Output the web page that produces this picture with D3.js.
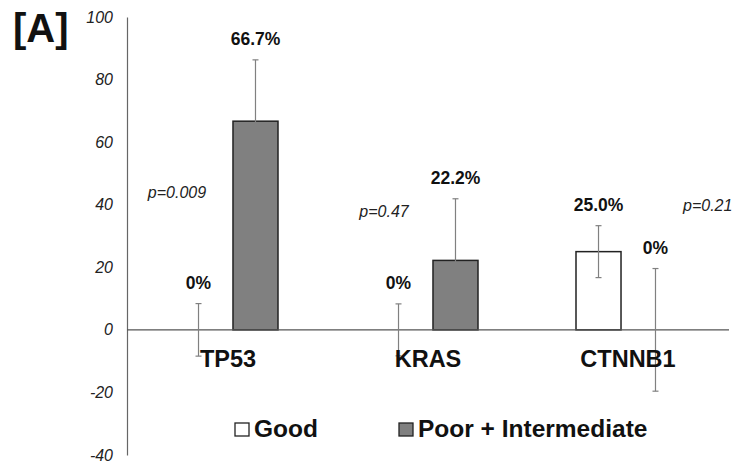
<!DOCTYPE html>
<html>
<head>
<meta charset="utf-8">
<script src="https://cdnjs.cloudflare.com/ajax/libs/d3/7.8.5/d3.min.js"></script>
<style>
  body { margin: 0; background: #fff; }
  text { font-family: "Liberation Sans", Arial, sans-serif; }
</style>
</head>
<body>
<svg id="chart" width="735" height="466"></svg>
<script>
var genes = ["TP53", "KRAS", "CTNNB1"];
var groups = ["Good", "Poor + Intermediate"];
var goodValues = [0, 0, 25.0];
var goodErrors = [8.4, 8.3, 8.3];
var poorValues = [66.7, 22.2, 0];
var poorErrors = [19.6, 19.7, 19.6];
var pValues = ["p=0.009", "p=0.47", "p=0.21"];
var yTicks = [100, 80, 60, 40, 20, 0, -20, -40];

var svg = d3.select("#chart");

var x = d3.scaleBand().domain(genes).range([127, 727]);
var xs = d3.scaleBand().domain(groups).range([0, x.bandwidth()])
  .paddingInner(0.21).paddingOuter(0.86);
var y = d3.scaleLinear().domain([-40, 100]).range([455, 17]);

// flatten for drawing
var bars = [];
genes.forEach(function (g, i) {
  bars.push({ gene: g, group: groups[0], value: goodValues[i], err: goodErrors[i] });
  bars.push({ gene: g, group: groups[1], value: poorValues[i], err: poorErrors[i] });
});
var fills = { "Good": "#ffffff", "Poor + Intermediate": "#808080" };

// y axis (labels only, plain line)
var yAxis = svg.append("g")
  .attr("transform", "translate(127,0)")
  .call(d3.axisLeft(y).tickValues(yTicks).tickSize(0).tickPadding(14)
    .tickFormat(function (d) { return String(d); }));
yAxis.select(".domain").attr("stroke", "#666").attr("stroke-width", 1.2);
yAxis.selectAll("text")
  .attr("font-size", 16)
  .attr("font-style", "italic")
  .attr("fill", "#222")
  .style("font-family", "'Liberation Sans', Arial, sans-serif");

// bars
svg.selectAll(".bar")
  .data(bars.filter(function (d) { return d.value > 0; }))
  .enter()
  .append("rect")
  .attr("class", "bar")
  .attr("x", function (d) { return x(d.gene) + xs(d.group); })
  .attr("y", function (d) { return y(d.value); })
  .attr("width", xs.bandwidth())
  .attr("height", function (d) { return y(0) - y(d.value); })
  .attr("fill", function (d) { return fills[d.group]; })
  .attr("stroke", "#222")
  .attr("stroke-width", 1.5);

// zero line
svg.append("line")
  .attr("x1", x.range()[0]).attr("x2", x.range()[1] + 2)
  .attr("y1", y(0)).attr("y2", y(0))
  .attr("stroke", "#555").attr("stroke-width", 1.2);

// error bars
var eb = svg.selectAll(".err")
  .data(bars)
  .enter()
  .append("g")
  .attr("class", "err")
  .attr("stroke", "#808080")
  .attr("stroke-width", 1.2);
function cx(d) { return x(d.gene) + xs(d.group) + xs.bandwidth() / 2; }
eb.append("line")
  .attr("x1", cx).attr("x2", cx)
  .attr("y1", function (d) { return y(d.value + d.err); })
  .attr("y2", function (d) { return y(d.value - d.err); });
eb.append("line")
  .attr("x1", function (d) { return cx(d) - 3; }).attr("x2", function (d) { return cx(d) + 3; })
  .attr("y1", function (d) { return y(d.value + d.err); })
  .attr("y2", function (d) { return y(d.value + d.err); });
eb.append("line")
  .attr("x1", function (d) { return cx(d) - 3; }).attr("x2", function (d) { return cx(d) + 3; })
  .attr("y1", function (d) { return y(d.value - d.err); })
  .attr("y2", function (d) { return y(d.value - d.err); });

// value labels
svg.selectAll(".vlabel")
  .data(bars)
  .enter()
  .append("text")
  .attr("class", "vlabel")
  .attr("x", cx)
  .attr("y", function (d) { return y(d.value + d.err) - 15; })
  .attr("text-anchor", "middle")
  .attr("font-size", 17.5)
  .attr("font-weight", "bold")
  .attr("fill", "#111")
  .text(function (d) { return d.value === 0 ? "0%" : d.value.toFixed(1) + "%"; });

// gene labels
svg.selectAll(".glabel")
  .data(genes)
  .enter()
  .append("text")
  .attr("x", function (d) { return x(d) + x.bandwidth() / 2 + 1; })
  .attr("y", 367)
  .attr("text-anchor", "middle")
  .attr("font-size", 23.5)
  .attr("font-weight", "bold")
  .attr("fill", "#111")
  .text(function (d) { return d; });

// p-values (text boxes placed by hand)
var pPos = [[177, 198], [384, 217], [683, 211]];
svg.selectAll(".plabel")
  .data(pValues)
  .enter()
  .append("text")
  .attr("x", function (d, i) { return pPos[i][0]; })
  .attr("y", function (d, i) { return pPos[i][1]; })
  .attr("text-anchor", function (d, i) { return i === 2 ? "start" : "middle"; })
  .attr("font-size", 16)
  .attr("font-style", "italic")
  .attr("fill", "#222")
  .text(function (d) { return d; });

// legend
var legX = [235, 399];
var leg = svg.selectAll(".leg")
  .data(groups)
  .enter()
  .append("g")
  .attr("transform", function (d, i) { return "translate(" + legX[i] + ",423)"; });
leg.append("rect")
  .attr("width", 14).attr("height", 13)
  .attr("fill", function (d) { return fills[d]; })
  .attr("stroke", "#222").attr("stroke-width", 1.3);
leg.append("text")
  .attr("x", 19).attr("y", 14)
  .attr("font-size", 24.5)
  .attr("font-weight", "bold")
  .attr("fill", "#111")
  .text(function (d) { return d; });

// panel tag
svg.append("text")
  .attr("x", 13).attr("y", 42)
  .attr("font-size", 40)
  .attr("font-weight", "bold")
  .attr("fill", "#111")
  .text("[A]");
</script>
</body>
</html>
